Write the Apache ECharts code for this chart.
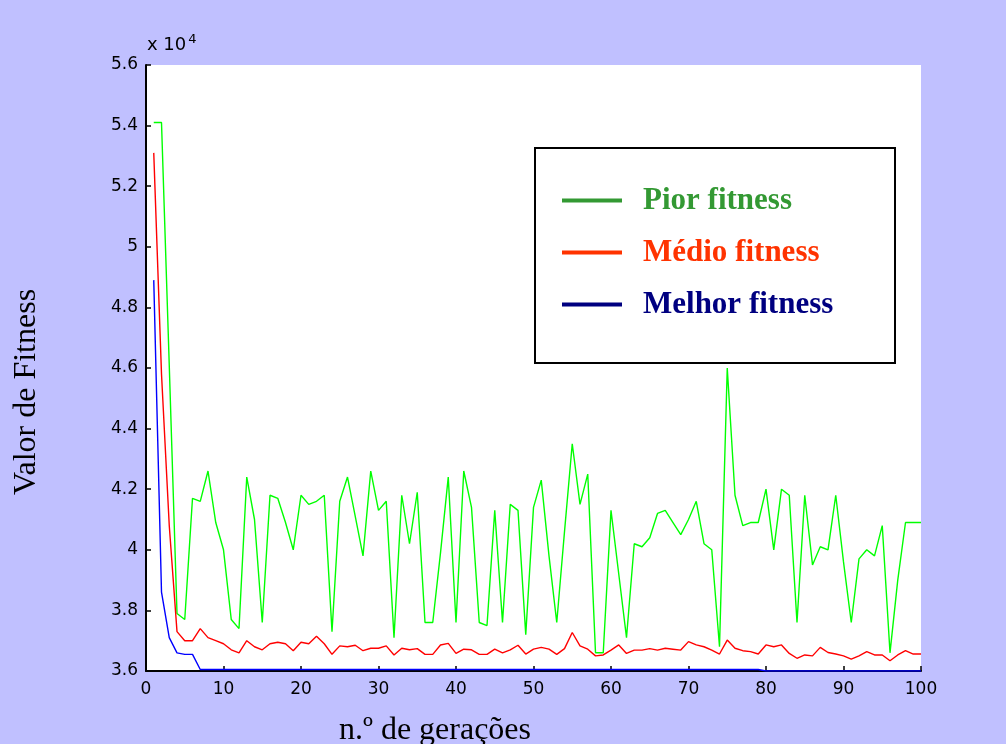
<!DOCTYPE html>
<html>
<head>
<meta charset="utf-8">
<title>Valor de Fitness</title>
<script src="https://cdn.jsdelivr.net/npm/echarts@6/dist/echarts.min.js"></script>
<style>
  html, body { margin: 0; padding: 0; background: #C0C0FF; }
  #grafico { width: 1006px; height: 744px; }
</style>
</head>
<body>
<div id="grafico"></div>
<script>
// valores (x 10^4 já multiplicado), geração 1..100
var piorFitness = [
  54100, 54100, 46100, 37900, 37700, 41700, 41600, 42600, 40900, 40000,
  37700, 37400, 42400, 41000, 37600, 41800, 41700, 40900, 40000, 41800,
  41500, 41600, 41800, 37300, 41600, 42400, 41100, 39800, 42600, 41300,
  41600, 37100, 41800, 40200, 41900, 37600, 37600, 39900, 42400, 37600,
  42600, 41400, 37600, 37500, 41300, 37600, 41500, 41300, 37200, 41400,
  42300, 39800, 37600, 40600, 43500, 41500, 42500, 36600, 36600, 41300,
  39200, 37100, 40200, 40100, 40400, 41200, 41300, 40900, 40500, 41000,
  41600, 40200, 40000, 36800, 46000, 41800, 40800, 40900, 40900, 42000,
  40000, 42000, 41800, 37600, 41800, 39500, 40100, 40000, 41800, 39600,
  37600, 39700, 40000, 39800, 40800, 36600, 39000, 40900, 40900, 40900
];
var medioFitness = [
  53100, 45800, 40800, 37300, 37000, 37000, 37400, 37100, 37000, 36900,
  36700, 36600, 37000, 36800, 36700, 36900, 36950, 36900, 36670, 36950,
  36900, 37150, 36900, 36550, 36830, 36800, 36850, 36670, 36750, 36750,
  36830, 36530, 36750, 36700, 36740, 36550, 36550, 36860, 36910, 36580,
  36720, 36700, 36550, 36550, 36720, 36600, 36700, 36850, 36560, 36720,
  36780, 36720, 36550, 36740, 37270, 36830, 36720, 36500, 36530, 36690,
  36860, 36580, 36690, 36690, 36740, 36690, 36750, 36720, 36690, 36970,
  36860, 36800, 36690, 36560, 37020, 36750, 36670, 36640, 36560, 36860,
  36800, 36860, 36580, 36420, 36530, 36500, 36780, 36610, 36560, 36500,
  36390, 36500, 36640, 36530, 36530, 36340, 36530, 36670, 36560, 36560
];
var melhorFitness = [
  48900, 38600, 37100, 36600, 36550, 36550, 36050, 36050, 36050, 36050,
  36050, 36050, 36050, 36050, 36050, 36050, 36050, 36050, 36050, 36050,
  36050, 36050, 36050, 36050, 36050, 36050, 36050, 36050, 36050, 36050,
  36050, 36050, 36050, 36050, 36050, 36050, 36050, 36050, 36050, 36050,
  36050, 36050, 36050, 36050, 36050, 36050, 36050, 36050, 36050, 36050,
  36050, 36050, 36050, 36050, 36050, 36050, 36050, 36050, 36050, 36050,
  36050, 36050, 36050, 36050, 36050, 36050, 36050, 36050, 36050, 36050,
  36050, 36050, 36050, 36050, 36050, 36050, 36050, 36050, 36050, 36000,
  36000, 36000, 36000, 36000, 36000, 36000, 36000, 36000, 36000, 36000,
  36000, 36000, 36000, 36000, 36000, 36000, 36000, 36000, 36000, 36000
];
var nomes = ['Pior fitness', 'Médio fitness', 'Melhor fitness'];
var coresLinha = ['#00FF00', '#FF0000', '#0000FF'];
var coresLegenda = ['#339933', '#FF3300', '#000080'];

// pares [geração, valor]
function pares(lista) {
  return lista.map(function (v, i) { return [i + 1, v]; });
}

var grafico = echarts.init(document.getElementById('grafico'));

var fonteEixo = { color: '#000', fontFamily: 'DejaVu Sans', fontSize: 17 };

var option = {
  animation: false,
  backgroundColor: '#C0C0FF',
  grid: {
    left: 146, right: 85, top: 65, bottom: 73,
    show: true, backgroundColor: '#FFFFFF', borderWidth: 0
  },
  xAxis: {
    type: 'value', min: 0, max: 100, interval: 10,
    axisLine: { lineStyle: { color: '#000', width: 2 } },
    axisTick: { inside: true, length: 5, lineStyle: { color: '#000', width: 1.5 } },
    axisLabel: Object.assign({ margin: 10 }, fonteEixo),
    splitLine: { show: false }
  },
  yAxis: {
    type: 'value', min: 36000, max: 56000, interval: 2000,
    axisLine: { show: true, lineStyle: { color: '#000', width: 2 } },
    axisTick: { show: true, inside: true, length: 5, lineStyle: { color: '#000', width: 1.5 } },
    axisLabel: Object.assign({
      margin: 8,
      formatter: function (v) { return (v / 10000).toFixed(1).replace(/\.0$/, ''); }
    }, fonteEixo),
    splitLine: { show: false }
  },
  legend: {
    orient: 'vertical', left: 562, top: 185, padding: 0, itemGap: 21,
    itemWidth: 60, itemHeight: 4, icon: 'rect', selectedMode: false, z: 10,
    textStyle: {
      fontFamily: 'Liberation Serif', fontWeight: 'bold', fontSize: 31,
      padding: [0, 0, 0, 16]
    },
    data: nomes.map(function (n, i) {
      return { name: n, itemStyle: { color: coresLegenda[i] }, textStyle: { color: coresLegenda[i] } };
    })
  },
  graphic: [
    {
      type: 'rect', z: 5,
      shape: { x: 535, y: 148, width: 360, height: 215 },
      style: { fill: '#FFFFFF', stroke: '#000', lineWidth: 2 }
    },
    {
      type: 'text', left: 147, top: 33,
      style: {
        text: 'x 10{s|4}', fill: '#000', font: '18px "DejaVu Sans"',
        rich: { s: { fontSize: 13, fontFamily: 'DejaVu Sans', verticalAlign: 'top', padding: [0, 0, 12, 2] } }
      }
    },
    {
      type: 'text', x: 27, y: 392, rotation: Math.PI / 2,
      style: {
        text: 'Valor de Fitness', fill: '#000', font: '32px "Liberation Serif"',
        align: 'center', verticalAlign: 'middle'
      }
    },
    {
      type: 'text', x: 435, y: 731,
      style: {
        text: 'n.º de gerações', fill: '#000', font: '32px "Liberation Serif"',
        align: 'center', verticalAlign: 'middle'
      }
    }
  ],
  series: [piorFitness, medioFitness, melhorFitness].map(function (lista, i) {
    return {
      name: nomes[i], type: 'line', data: pares(lista),
      showSymbol: false, symbol: 'none',
      lineStyle: { color: coresLinha[i], width: 1.4 },
      itemStyle: { color: coresLinha[i] }
    };
  })
};

grafico.setOption(option);
</script>
</body>
</html>
